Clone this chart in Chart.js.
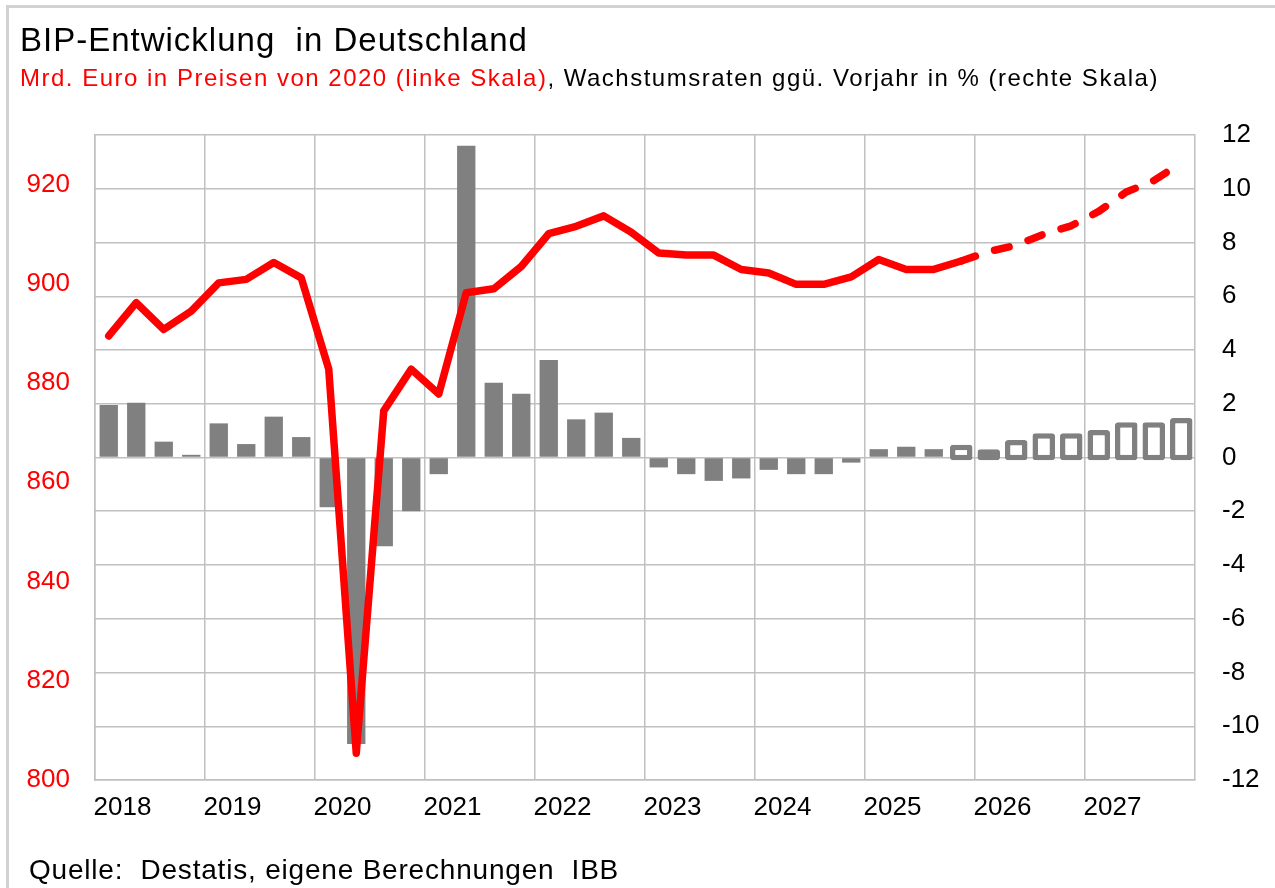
<!DOCTYPE html>
<html>
<head>
<meta charset="utf-8">
<script src="https://cdn.jsdelivr.net/npm/chart.js@4.4.1/dist/chart.umd.min.js"></script>
<style>
  body { margin: 0; background: #fff; font-family: "Liberation Sans", Arial, sans-serif; }
  #wrap { position: relative; width: 1275px; height: 888px; overflow: hidden; }
  #frame { position: absolute; left: 6px; top: 5px; width: 1300px; height: 900px; border: 3px solid #d2d2d2; box-sizing: border-box; }
  #chart { position: absolute; left: 0; top: 0; }
  .txt { position: absolute; white-space: pre; line-height: 1; }
  #title { left: 20px; top: 23px; font-size: 33px; letter-spacing: 1px; color: #000; }
  #sub { left: 20px; top: 66px; font-size: 24px; letter-spacing: 1.5px; color: #000; }
  #sub .red { color: #ff0000; }
  #foot { left: 29px; top: 856px; font-size: 28px; letter-spacing: 0.8px; color: #000; }
</style>
</head>
<body>
<div id="wrap">
  <div id="frame"></div>
  <canvas id="chart" width="1275" height="888"></canvas>
  <div class="txt" id="title">BIP-Entwicklung  in Deutschland</div>
  <div class="txt" id="sub"><span class="red">Mrd. Euro in Preisen von 2020 (linke Skala)</span>, Wachstumsraten ggü. Vorjahr in % (rechte Skala)</div>
  <div class="txt" id="foot">Quelle:  Destatis, eigene Berechnungen  IBB</div>
</div>
<script>
// quarterly data 2018 Q1 .. 2027 Q4
const years = [2018, 2019, 2020, 2021, 2022, 2023, 2024, 2025, 2026, 2027];
const quarters = ['Q1', 'Q2', 'Q3', 'Q4'];

// BIP, Mrd. Euro in Preisen von 2020 (linke Skala)
const gdp = [
  889.5, 896.2, 890.8, 894.5,
  900.2, 900.9, 904.3, 901.2,
  882.8, 805.4, 874.4, 882.8,
  877.8, 898.2, 899.0, 903.5,
  910.1, 911.6, 913.7, 910.4,
  906.2, 905.8, 905.8, 902.9,
  902.2, 899.9, 899.9, 901.4,
  904.9, 902.9, 902.9, 904.6,
  906.5, 907.8, 910.0, 911.7,
  914.6, 918.5, 920.8, 924.4
];

// Wachstumsraten ggü. Vorjahr in % (rechte Skala)
const growth = [
  1.95, 2.04, 0.59, 0.10,
  1.27, 0.50, 1.52, 0.76,
  -1.85, -10.66, -3.30, -2.00,
  -0.62, 11.60, 2.78, 2.37,
  3.63, 1.42, 1.67, 0.73,
  -0.37, -0.62, -0.87, -0.78,
  -0.46, -0.62, -0.62, -0.19,
  0.31, 0.40, 0.31, 0.47,
  0.31, 0.65, 0.90, 0.90,
  1.02, 1.31, 1.31, 1.47
];

// first forecast quarter (2025 Q4)
const forecastFrom = 31;

const labels = years.flatMap(y => quarters.map(q => q + ' ' + y));
const gridCol = '#c0c0c0';
const axisFont = { family: 'Liberation Sans', size: 26 };

const ctx = document.getElementById('chart').getContext('2d');
const chart = new Chart(ctx, {
  type: 'bar',
  data: {
    labels: labels,
    datasets: [
      {
        type: 'line',
        label: 'BIP',
        data: gdp,
        yAxisID: 'y',
        borderColor: '#ff0000',
        borderWidth: 7.5,
        pointRadius: 0,
        tension: 0,
        borderCapStyle: 'round',
        borderJoinStyle: 'round',
        order: 0,
        segment: {
          borderDash: c => c.p0DataIndex >= forecastFrom ? [15, 20] : undefined
        }
      },
      {
        label: 'Wachstum',
        data: growth.map((v, i) => i < forecastFrom ? v : null),
        yAxisID: 'y1',
        backgroundColor: '#808080',
        barPercentage: 0.667,
        categoryPercentage: 1,
        grouped: false,
        order: 1
      },
      {
        label: 'Prognose',
        data: growth.map((v, i) => i >= forecastFrom ? v : null),
        yAxisID: 'y1',
        backgroundColor: '#ffffff',
        borderColor: '#808080',
        borderWidth: 5.5,
        borderRadius: 3,
        borderSkipped: false,
        base: -0.1,
        barPercentage: 0.82,
        categoryPercentage: 1,
        grouped: false,
        order: 1
      }
    ]
  },
  options: {
    responsive: false,
    animation: false,
    devicePixelRatio: 1,
    layout: { padding: { top: 135, left: 0, right: 0, bottom: 0 } },
    plugins: {
      legend: { display: false },
      tooltip: { enabled: false },
      title: { display: false }
    },
    scales: {
      x: {
        offset: true,
        grid: {
          offset: true,
          drawTicks: false,
          lineWidth: 1.5,
          color: c => (c.index % 4 === 0) ? gridCol : 'rgba(0,0,0,0)'
        },
        border: { display: true, color: gridCol, width: 1.5 },
        ticks: {
          autoSkip: false,
          maxRotation: 0,
          minRotation: 0,
          labelOffset: 13.7,
          padding: 12,
          color: '#000',
          font: axisFont,
          callback: (v, i) => i % 4 === 0 ? String(years[i / 4]) : ''
        },
        afterFit: s => { s.height = 108; }
      },
      y: {
        position: 'left',
        min: 800,
        max: 930,
        grid: { display: false, drawTicks: false },
        border: { display: true, color: gridCol, width: 1.5 },
        ticks: {
          stepSize: 20,
          padding: 25,
          color: '#ff0000',
          font: axisFont,
          callback: v => v > 920 ? '' : v
        },
        afterFit: s => { s.width = 95; }
      },
      y1: {
        position: 'right',
        min: -12,
        max: 12,
        grid: { color: gridCol, lineWidth: 1.5, drawTicks: false },
        border: { display: true, color: gridCol, width: 1.5 },
        ticks: {
          stepSize: 2,
          padding: 27,
          color: '#000',
          font: axisFont
        },
        afterFit: s => { s.width = 80; }
      }
    }
  }
});
</script>
</body>
</html>
